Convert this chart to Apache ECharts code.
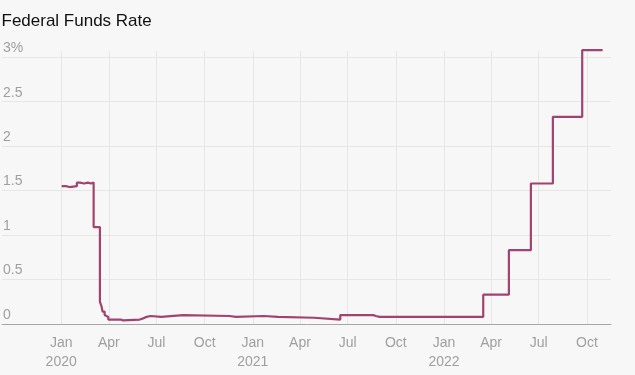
<!DOCTYPE html>
<html>
<head>
<meta charset="utf-8">
<script src="https://cdn.jsdelivr.net/npm/echarts@6/dist/echarts.min.js"></script>
<style>
html,body{margin:0;padding:0;background:#f7f7f7;}
#chart{width:635px;height:375px;}
</style>
</head>
<body>
<div id="chart"></div>
<script>
// Effective federal funds rate, change dates (value holds until next date)
var dates = [
  "2020-01-02","2020-01-10","2020-01-17","2020-01-31","2020-02-06","2020-02-14","2020-02-21","2020-02-27",
  "2020-03-03","2020-03-15","2020-03-18","2020-03-20","2020-03-24","2020-03-27","2020-03-31",
  "2020-04-24","2020-04-28","2020-05-30","2020-06-04","2020-06-12","2020-06-20","2020-07-10",
  "2020-08-21","2020-11-17","2020-11-30","2021-01-22","2021-02-18","2021-04-28",
  "2021-06-17","2021-06-30","2021-07-01","2021-07-30","2021-08-02","2021-08-19","2021-08-24",
  "2021-08-31","2021-09-01","2021-09-30","2021-10-01","2021-11-01","2021-11-02","2021-11-30",
  "2021-12-01","2021-12-31","2022-01-03",
  "2022-03-17","2022-05-05","2022-06-16","2022-07-28","2022-09-22","2022-10-31"
];
var rates = [
  1.55,1.54,1.55,1.59,1.58,1.59,1.58,1.59,
  1.09,0.25,0.20,0.14,0.10,0.08,0.05,
  0.04,0.05,0.06,0.08,0.09,0.08,0.10,
  0.09,0.08,0.09,0.08,0.07,0.05,
  0.10,0.09,0.10,0.09,0.10,0.09,0.08,
  0.07,0.08,0.07,0.08,0.07,0.08,0.07,
  0.08,0.07,0.08,
  0.33,0.83,1.58,2.33,3.08,3.08
];
var xTickDates = ["2020-01-01","2020-04-01","2020-07-01","2020-10-01","2021-01-01","2021-04-01","2021-07-01","2021-10-01","2022-01-01","2022-04-01","2022-07-01","2022-10-01"];
var xTickLabels = ["Jan\n2020","Apr","Jul","Oct","Jan\n2021","Apr","Jul","Oct","Jan\n2022","Apr","Jul","Oct"];
var yTickValues = [0,0.5,1,1.5,2,2.5,3];
var yTickLabels = ["0","0.5","1","1.5","2","2.5","3%"];
var xMin = "2019-09-10", xMax = "2022-11-16";

function ts(s){ var p=s.split('-'); return Date.UTC(+p[0], +p[1]-1, +p[2]); }
var xTicks = xTickDates.map(ts);
var seriesData = dates.map(function(d,i){ return [ts(d), rates[i]]; });

var chart = echarts.init(document.getElementById('chart'), null, {renderer:'canvas'});
var font = 'Liberation Sans';
chart.setOption({
  backgroundColor:'#f7f7f7',
  animation:false,
  title:{
    text:'Federal Funds Rate', left:1.5, top:13, padding:0,
    textStyle:{fontFamily:font,fontSize:17,fontWeight:'normal',color:'#111'}
  },
  grid:{left:0,right:24,top:51,bottom:51,containLabel:false},
  xAxis:{
    type:'value', min:ts(xMin), max:ts(xMax),
    axisLine:{show:true,lineStyle:{color:'#a6a6a6',width:1}},
    axisTick:{show:false,customValues:xTicks},
    splitLine:{show:true,lineStyle:{color:'#e6e6e6',width:1}},
    axisLabel:{
      customValues:xTicks, color:'#9f9f9f', fontFamily:font, fontSize:14, lineHeight:19, margin:10,
      formatter:function(v){ var i=xTicks.indexOf(v); return i>=0?xTickLabels[i]:''; }
    }
  },
  yAxis:{
    type:'value', min:0, max:3.07,
    axisLine:{show:false},
    axisTick:{show:false,customValues:yTickValues},
    splitLine:{show:true,lineStyle:{color:'#e6e6e6',width:1}},
    axisLabel:{
      customValues:yTickValues, inside:true, margin:1, align:'left', verticalAlign:'bottom',
      color:'#9f9f9f', fontFamily:font, fontSize:14, padding:[0,0,2,0],
      formatter:function(v){ var i=yTickValues.indexOf(v); return i>=0?yTickLabels[i]:''; }
    }
  },
  series:[{
    type:'line', step:'end', data:seriesData, showSymbol:false, clip:false,
    lineStyle:{color:'#a0446f',width:2.2}, itemStyle:{color:'#a0446f'}
  }]
});
</script>
</body>
</html>
